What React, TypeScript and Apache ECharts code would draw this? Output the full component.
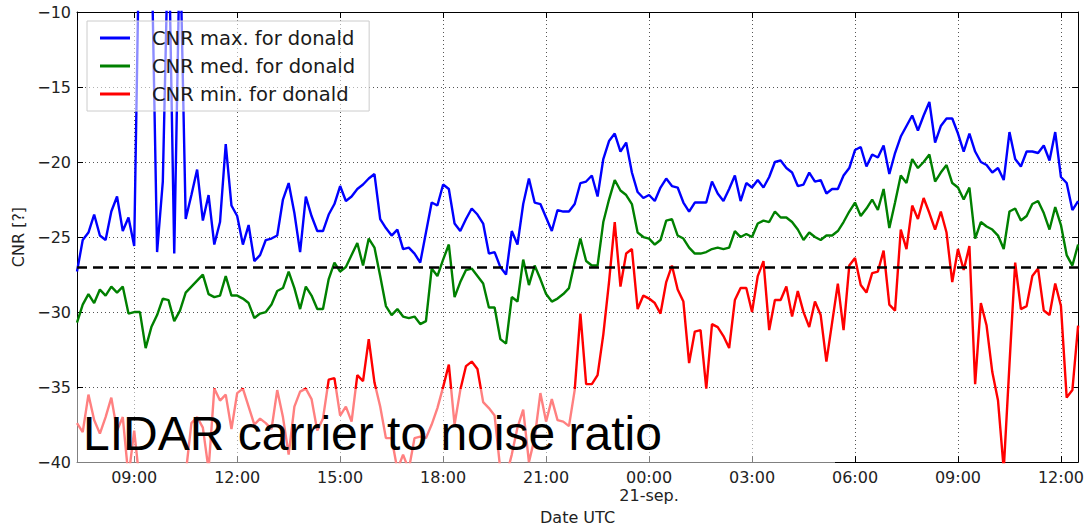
import React, { useEffect, useRef } from "react";
import * as echarts from "echarts";

// 10-minute samples starting 20 Sep 07:20 UTC (hours since 20 Sep 00:00)
const START_HOUR = 7 + 20 / 60;
const STEP_HOURS = 10 / 60;

const SERIES_NAMES = ["CNR max. for donald", "CNR med. for donald", "CNR min. for donald"];
const SERIES_COLORS = ["#0000ff", "#008000", "#ff0000"];

const cnrMax = [
  -27.3, -25.2, -24.7, -23.5, -24.9, -25.2, -23.3, -22.3, -24.6, -23.7,
  -25.6, -2.0, -3.0, -5.0, -26.0, -21.3, -4.0, -26.1, -5.0, -23.8,
  -22.2, -20.5, -23.9, -22.2, -25.5, -24.0, -18.8, -22.9, -23.6, -25.5,
  -24.2, -26.6, -26.2, -25.2, -25.1, -24.9, -22.5, -21.4, -23.4, -26.0,
  -22.3, -23.6, -24.6, -24.6, -23.5, -22.8, -21.6, -22.6, -22.3, -21.8,
  -21.5, -21.1, -20.8, -23.8, -24.4, -24.9, -24.5, -25.8, -25.7, -26.1,
  -26.7, -24.7, -22.7, -22.9, -21.5, -21.8, -24.1, -24.6, -23.8, -23.1,
  -23.5, -24.1, -26.1, -26.0, -27.0, -27.5, -24.6, -25.5, -22.8, -21.1,
  -22.7, -22.8, -23.7, -24.6, -23.2, -23.3, -23.3, -22.8, -21.4, -21.3,
  -20.9, -22.3, -19.8, -18.6, -18.1, -19.3, -18.7, -20.7, -22.0, -22.4,
  -22.2, -22.6, -21.7, -21.1, -21.6, -21.7, -22.7, -23.3, -22.7, -22.7,
  -22.7, -21.3, -22.1, -22.6, -21.8, -20.9, -22.6, -21.4, -21.7, -21.2,
  -21.7, -21.0, -20.0, -19.9, -20.4, -20.7, -21.6, -21.5, -20.7, -21.3,
  -21.2, -22.1, -21.8, -21.8, -20.9, -20.4, -19.2, -19.0, -20.3, -19.5,
  -19.7, -18.9, -20.8, -19.4, -18.3, -17.6, -16.9, -17.9, -16.9, -16.0,
  -18.7, -17.6, -17.1, -17.1, -18.1, -19.3, -18.1, -19.3, -20.0, -20.2,
  -20.7, -20.4, -21.2, -18.0, -19.8, -20.3, -19.3, -19.3, -19.4, -18.9,
  -19.9, -18.0, -21.0, -21.4, -23.2, -22.6,
];

const cnrMed = [
  -30.7, -29.5, -28.8, -29.4, -28.5, -28.9, -28.3, -28.7, -28.3, -30.1,
  -30.0, -30.0, -32.4, -31.0, -30.2, -29.1, -29.2, -30.6, -29.9, -28.7,
  -28.3, -27.9, -27.5, -28.8, -29.0, -28.9, -27.6, -28.9, -28.9, -29.1,
  -29.4, -30.4, -30.1, -30.0, -29.5, -28.6, -28.4, -27.3, -28.4, -29.8,
  -28.3, -28.9, -29.8, -29.8, -27.8, -26.7, -27.3, -27.0, -26.2, -25.4,
  -26.9, -25.1, -25.7, -27.6, -29.6, -30.2, -29.8, -30.3, -30.4, -30.3,
  -30.8, -30.6, -27.1, -27.6, -26.5, -25.5, -29.0, -28.0, -27.2, -27.1,
  -27.6, -28.1, -29.7, -29.7, -31.8, -32.1, -29.0, -29.3, -26.5, -28.2,
  -26.9, -27.8, -28.8, -29.3, -29.1, -28.8, -28.4, -26.7, -25.1, -26.6,
  -26.9, -26.9, -24.0, -22.5, -21.2, -21.9, -22.2, -22.8, -24.7, -25.0,
  -25.1, -25.5, -25.2, -23.9, -23.8, -24.9, -25.1, -25.7, -26.1, -26.1,
  -26.0, -25.8, -25.7, -25.8, -25.7, -24.6, -25.0, -24.8, -25.0, -24.1,
  -23.9, -24.0, -23.3, -23.7, -23.7, -24.0, -24.5, -25.2, -24.7, -25.0,
  -25.2, -24.9, -24.9, -24.6, -24.0, -23.3, -22.7, -23.6, -23.1, -22.5,
  -23.2, -21.8, -24.4, -22.7, -20.9, -21.4, -19.8, -20.4, -20.0, -19.5,
  -21.3, -20.7, -20.2, -21.4, -21.7, -22.5, -21.7, -25.1, -24.0, -24.3,
  -24.5, -24.9, -25.8, -23.3, -23.1, -23.9, -23.6, -22.8, -22.6, -23.4,
  -24.5, -23.0, -24.2, -26.2, -26.9, -25.5,
];

const cnrMin = [
  -37.4, -38.0, -35.5, -37.2, -38.1, -37.0, -35.7, -37.9, -37.0, -41.0,
  -37.9, -41.5, -41.0, -42.0, -41.5, -40.8, -42.0, -41.0, -41.5, -40.8,
  -37.4, -37.0, -37.7, -40.5, -35.1, -35.9, -35.5, -37.8, -35.4, -35.1,
  -36.3, -37.5, -37.1, -37.4, -37.8, -35.2, -37.0, -39.5, -36.3, -35.3,
  -35.1, -35.8, -37.9, -37.1, -34.5, -34.4, -36.9, -36.3, -37.3, -34.2,
  -34.6, -31.8, -34.7, -36.3, -38.4, -38.4, -40.5, -39.5, -40.5, -38.4,
  -38.3, -38.4, -37.5, -36.4, -35.0, -33.5, -37.5, -35.2, -33.6, -33.3,
  -33.8, -36.0, -36.4, -36.9, -40.5, -41.0, -39.5, -37.7, -36.5, -40.0,
  -38.4, -35.4, -37.3, -35.8, -37.2, -37.3, -37.6, -35.2, -30.1, -34.8,
  -34.8, -34.2, -31.5, -28.0, -24.0, -28.3, -26.1, -25.8, -29.8, -28.9,
  -29.1, -29.4, -30.1, -28.0, -26.9, -28.5, -29.3, -33.4, -31.3, -31.2,
  -35.1, -30.8, -31.0, -31.6, -32.4, -29.2, -28.4, -28.4, -30.0, -27.6,
  -26.6, -31.2, -29.2, -29.2, -28.3, -30.3, -28.6, -30.0, -31.0, -29.3,
  -30.2, -33.3, -30.7, -28.1, -31.2, -26.9, -26.4, -28.2, -28.7, -27.4,
  -27.3, -25.9, -29.5, -29.9, -24.5, -25.8, -22.9, -23.8, -22.4, -23.4,
  -24.5, -23.3, -24.7, -28.0, -25.8, -27.2, -25.6, -34.8, -29.4, -30.9,
  -34.0, -35.9, -40.5, -33.5, -26.7, -29.8, -29.6, -27.6, -27.1, -29.9,
  -30.2, -28.1, -29.6, -35.7, -35.2, -30.9,
];

const THRESHOLD = -27;
const X_TICKS = [9, 12, 15, 18, 21, 24, 27, 30, 33, 36];
const DAY_LABEL = "21-sep.";
const Y_MIN = -40;
const Y_MAX = -10;
const Y_STEP = 5;

const X_MIN = START_HOUR;
const X_MAX = START_HOUR + (cnrMax.length - 1) * STEP_HOURS;

const AXIS_FONT = "DejaVu Sans";

const toPoints = (vals: number[]) =>
  vals.map((v, i) => [START_HOUR + i * STEP_HOURS, v]);

const fmtHour = (v: number) => {
  const h = ((Math.round(v) % 24) + 24) % 24;
  const s = (h < 10 ? "0" : "") + h + ":00";
  return Math.round(v) === 24 ? s + "\n" + DAY_LABEL : s;
};

const fmtY = (v: number) => (v < 0 ? "\u2212" : "") + Math.abs(v);

export default function App() {
  const ref = useRef<HTMLDivElement>(null);

  useEffect(() => {
    if (!ref.current) return;
    const chart = echarts.init(ref.current, null, { renderer: "svg" });

    const lineSeries = [cnrMax, cnrMed, cnrMin].map((vals, k) => ({
      name: SERIES_NAMES[k],
      type: "line",
      data: toPoints(vals),
      showSymbol: false,
      symbol: "none",
      clip: true,
      lineStyle: { color: SERIES_COLORS[k], width: 2.4 },
      itemStyle: { color: SERIES_COLORS[k] },
      z: 2 + k,
    }));

    chart.setOption({
      animation: false,
      backgroundColor: "#ffffff",
      grid: { left: 77, right: 5, top: 12, bottom: 66 },
      legend: {
        data: SERIES_NAMES,
        orient: "vertical",
        left: 87,
        top: 21,
        padding: [7, 14, 7, 13],
        itemGap: 8,
        itemWidth: 30,
        itemHeight: 3,
        icon: "rect",
        backgroundColor: "rgba(255,255,255,0.55)",
        borderColor: "#cccccc",
        borderWidth: 1,
        textStyle: {
          fontFamily: AXIS_FONT,
          fontSize: 19.5,
          lineHeight: 20,
          color: "#1a1a1a",
          padding: [0, 0, 0, 17],
        },
        selectedMode: false,
      },
      xAxis: [
        {
          type: "value",
          min: X_MIN,
          max: X_MAX,
          position: "bottom",
          name: "Date UTC",
          nameLocation: "middle",
          nameGap: 45,
          nameTextStyle: { fontFamily: AXIS_FONT, fontSize: 16, color: "#222" },
          axisLine: { show: true, lineStyle: { color: "#000", width: 1 } },
          axisTick: {
            show: true,
            inside: true,
            length: 6,
            customValues: X_TICKS,
            lineStyle: { color: "#000" },
          },
          axisLabel: {
            customValues: X_TICKS,
            formatter: fmtHour,
            fontFamily: AXIS_FONT,
            fontSize: 16,
            lineHeight: 18,
            color: "#222",
            margin: 6,
          },
          splitLine: {
            show: true,
            lineStyle: { color: "#555", type: [1, 3], width: 1 },
          },
        },
        {
          type: "value",
          min: X_MIN,
          max: X_MAX,
          position: "top",
          axisLine: { show: true, lineStyle: { color: "#000", width: 1 } },
          axisTick: {
            show: true,
            inside: true,
            length: 6,
            customValues: X_TICKS,
            lineStyle: { color: "#000" },
          },
          axisLabel: { show: false },
          splitLine: { show: false },
        },
      ],
      yAxis: [
        {
          type: "value",
          min: Y_MIN,
          max: Y_MAX,
          interval: Y_STEP,
          position: "left",
          name: "CNR [?]",
          nameLocation: "middle",
          nameGap: 49,
          nameRotate: 90,
          nameTextStyle: { fontFamily: AXIS_FONT, fontSize: 16, color: "#222" },
          axisLine: { show: true, lineStyle: { color: "#000", width: 1 } },
          axisTick: { show: true, inside: true, length: 6, lineStyle: { color: "#000" } },
          axisLabel: {
            formatter: fmtY,
            fontFamily: AXIS_FONT,
            fontSize: 16,
            color: "#222",
            margin: 6,
          },
          splitLine: {
            show: true,
            lineStyle: { color: "#555", type: [1, 3], width: 1 },
          },
        },
        {
          type: "value",
          min: Y_MIN,
          max: Y_MAX,
          interval: Y_STEP,
          position: "right",
          axisLine: { show: true, lineStyle: { color: "#000", width: 1 } },
          axisTick: { show: true, inside: true, length: 6, lineStyle: { color: "#000" } },
          axisLabel: { show: false },
          splitLine: { show: false },
        },
      ],
      series: [
        ...lineSeries,
        {
          name: "threshold",
          type: "line",
          data: [],
          z: 6,
          markLine: {
            silent: true,
            symbol: "none",
            label: { show: false },
            lineStyle: { color: "#000", width: 2.5, type: [10, 6] },
            data: [{ yAxis: THRESHOLD }],
          },
        },
      ],
      graphic: {
        elements: [
          {
            type: "rect",
            z: 100,
            shape: { x: 70, y: 389, width: 765, height: 78 },
            style: { fill: "rgba(255,255,255,0.5)" },
            silent: true,
          },
          {
            type: "text",
            z: 101,
            style: {
              text: "LIDAR carrier to noise ratio",
              x: 83,
              y: 433,
              fontFamily: "Liberation Sans",
              fontSize: 48,
              fill: "#000",
              verticalAlign: "middle",
            },
            silent: true,
          },
        ],
      },
    });

    return () => chart.dispose();
  }, []);

  return (
    <div
      ref={ref}
      style={{ position: "fixed", left: 0, top: 0, width: 1087, height: 530 }}
    />
  );
}
